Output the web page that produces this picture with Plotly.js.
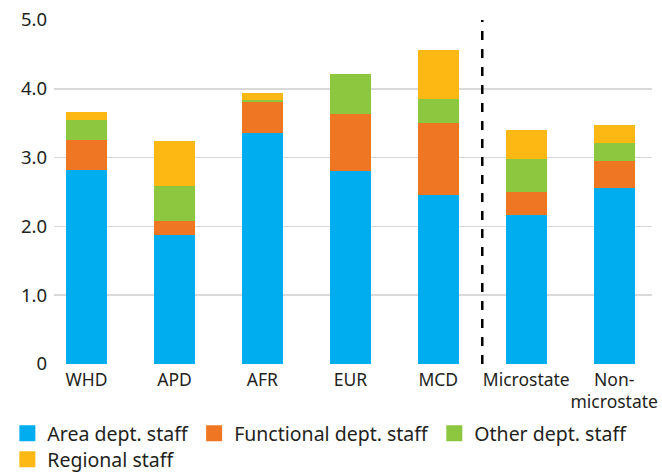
<!DOCTYPE html>
<html><head><meta charset="utf-8">
<script src="https://cdn.plot.ly/plotly-3.0.1.min.js"></script>
<style>html,body{margin:0;padding:0;background:#fff}</style>
</head><body><div id="chart" style="width:662px;height:472px"></div>
<script>
const categories = ["WHD","APD","AFR","EUR","MCD","Microstate","Non-<br>microstate"];
const areaStaff = [2.82, 1.87, 3.36, 2.80, 2.46, 2.17, 2.56];
const functionalStaff = [0.44, 0.21, 0.45, 0.83, 1.04, 0.33, 0.39];
const otherStaff = [0.29, 0.51, 0.03, 0.59, 0.35, 0.48, 0.26];
const regionalStaff = [0.11, 0.65, 0.10, 0.00, 0.71, 0.42, 0.26];
const seriesNames = ["Area dept. staff","Functional dept. staff","Other dept. staff","Regional staff"];
const colors = ["#00ADEF","#EF7622","#8DC63F","#FDB813"];
const yTicks = [0,1,2,3,4,5];
const yTickText = ["0","1.0","2.0","3.0","4.0","5.0"];
const dividerX = 4.5;

const idx = categories.map((_, i) => i);
const vals = [areaStaff, functionalStaff, otherStaff, regionalStaff];
const bars = vals.map((v, k) => ({
  type: "bar", x: idx, y: v, name: seriesNames[k], showlegend: false,
  marker: {color: colors[k], line: {width: 0}}, width: 0.466,
  hoverinfo: "skip"
}));
const keys = seriesNames.map((n, k) => ({
  type: "scatter", mode: "markers", x: [null], y: [null], name: n,
  legend: k < 3 ? "legend" : "legend2",
  marker: {color: colors[k], symbol: "square", size: 16, line: {width: 0}},
  hoverinfo: "skip"
}));

const legendBase = {orientation: "h", xanchor: "left", yanchor: "top",
  font: {size: 19.5}, traceorder: "normal", itemwidth: 30, tracegroupgap: 0,
  bgcolor: "rgba(0,0,0,0)"};

const layout = {
  width: 662, height: 472,
  margin: {l: 54, r: 10, t: 20, b: 108, autoexpand: false},
  barmode: "stack",
  paper_bgcolor: "#fff", plot_bgcolor: "#fff",
  font: {family: "'Noto Sans', sans-serif", size: 18, color: "#231F20"},
  showlegend: true,
  legend: Object.assign({}, legendBase, {x: -0.078, y: -0.1453}),
  legend2: Object.assign({}, legendBase, {x: -0.078, y: -0.2209}),
  xaxis: {range: [-0.37, 6.43], tickmode: "array", tickvals: idx, ticktext: categories,
          tickangle: 0, automargin: false, ticklabelstandoff: 3,
          showgrid: false, zeroline: false, showline: false, ticks: "",
          tickfont: {size: 17.5}, fixedrange: true},
  yaxis: {range: [0, 5.0], tickmode: "array", tickvals: yTicks, ticktext: yTickText,
          automargin: false,
          showgrid: true, gridcolor: "#d9d9d9", gridwidth: 1.5, zeroline: false,
          showline: false, ticks: "", ticklabelstandoff: 6, tickfont: {size: 18.5}, fixedrange: true},
  shapes: [{type: "line", xref: "x", yref: "y", x0: dividerX, x1: dividerX, y0: 0, y1: 5.0,
            line: {color: "#000", width: 2.5, dash: "dash"}}]
};
Plotly.newPlot("chart", bars.concat(keys), layout, {displayModeBar: false, staticPlot: true});
</script></body></html>
